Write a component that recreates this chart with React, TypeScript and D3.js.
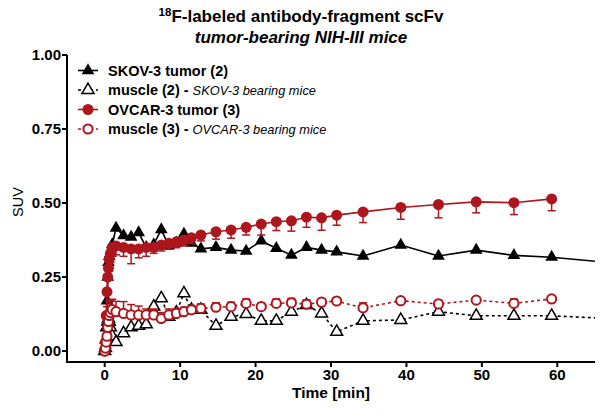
import React from 'react';
import * as d3 from 'd3';

const times = [0, 0.1, 0.2, 0.3, 0.4, 0.5, 0.6, 0.75, 1, 1.5, 2.5, 3.5, 4.5, 5.5, 6.5, 7.5, 8.5, 9.5, 10.5, 11.5, 12.75, 14.75, 16.75, 18.75, 20.75, 22.75, 24.75, 26.75, 28.75, 30.75, 34.25, 39.25, 44.25, 49.25, 54.25, 59.25];
const skovTimes = [...times, 69.25];

const skovTumor = [0.0, 0.02, 0.08, 0.17, 0.25, 0.3, 0.32, 0.33, 0.36, 0.415, 0.39, 0.385, 0.4, 0.35, 0.36, 0.41, 0.355, 0.365, 0.395, 0.365, 0.345, 0.35, 0.341, 0.338, 0.372, 0.347, 0.324, 0.35, 0.341, 0.335, 0.321, 0.358, 0.321, 0.341, 0.323, 0.317, 0.293];
const skovMuscle = [0.0, 0.01, 0.04, 0.08, 0.1, 0.11, 0.1, 0.08, 0.05, 0.03, 0.06, 0.08, 0.085, 0.09, 0.15, 0.178, 0.116, 0.13, 0.195, 0.139, 0.139, 0.085, 0.116, 0.125, 0.102, 0.102, 0.133, 0.155, 0.127, 0.065, 0.102, 0.105, 0.133, 0.119, 0.119, 0.119, 0.107];
const ovcarTumor = [0.0, 0.03, 0.12, 0.2, 0.25, 0.28, 0.31, 0.33, 0.35, 0.355, 0.35, 0.345, 0.345, 0.35, 0.35, 0.358, 0.364, 0.369, 0.375, 0.383, 0.392, 0.403, 0.409, 0.418, 0.429, 0.437, 0.44, 0.452, 0.45, 0.459, 0.47, 0.485, 0.495, 0.504, 0.501, 0.514];
const ovcarTumorErr = [0, 0.02, 0.04, 0.05, 0.05, 0.04, 0.04, 0.03, 0.03, 0.03, 0.03, 0.05, 0.03, 0.03, 0.02, 0.02, 0.02, 0.02, 0.02, 0.02, 0.02, 0.025, 0.028, 0.026, 0.037, 0.03, 0.035, 0.034, 0.042, 0.034, 0.036, 0.04, 0.045, 0.037, 0.04, 0.04];
const ovcarMuscle = [0.0, 0.01, 0.03, 0.05, 0.08, 0.1, 0.12, 0.13, 0.14, 0.133, 0.127, 0.122, 0.122, 0.122, 0.122, 0.11, 0.122, 0.127, 0.133, 0.139, 0.144, 0.148, 0.15, 0.161, 0.15, 0.161, 0.163, 0.158, 0.165, 0.169, 0.146, 0.17, 0.159, 0.172, 0.161, 0.176];
const ovcarMuscleErr = [0, 0.01, 0.02, 0.03, 0.04, 0.05, 0.05, 0.04, 0.035, 0.035, 0.04, 0.035, 0.03, 0.02, 0.02, 0.02, 0.02, 0.015, 0.015, 0.015, 0.015, 0.015, 0.015, 0.015, 0.012, 0.015, 0.015, 0.015, 0.012, 0.01, 0.017, 0.01, 0.012, 0.01, 0.015, 0.01];

const xTicks = [0, 10, 20, 30, 40, 50, 60];
const yTicks = [0, 0.25, 0.5, 0.75, 1.0];

const legendItems = [
  { main: 'SKOV-3 tumor (2)', sub: '' },
  { main: 'muscle (2) - ', sub: 'SKOV-3 bearing mice' },
  { main: 'OVCAR-3 tumor (3)', sub: '' },
  { main: 'muscle (3) - ', sub: 'OVCAR-3 bearing mice' },
];

const RED = '#ad161c';
const FONT = '"Liberation Sans", Arial, sans-serif';

export default function App() {
  const x = d3.scaleLinear().domain([-5, 65]).range([67, 595]);
  const y = d3.scaleLinear().domain([-0.037, 1.0]).range([362, 55]);
  const line = d3.line<[number, number]>().x(d => x(d[0])).y(d => y(d[1]));
  const tri = d3.symbol(d3.symbolTriangle, 70)() as string;
  const triOpen = d3.symbol(d3.symbolTriangle, 62)() as string;

  const zip = (t: number[], v: number[]) => t.map((ti, i) => [ti, v[i]] as [number, number]);
  const inDom = (t: number) => t <= 65;

  const legY = [70.5, 90, 109.5, 129];

  return (
    <svg width={600} height={419} style={{ position: 'absolute', left: 0, top: 0, background: '#fff' }} fontFamily={FONT}>
      <defs>
        <clipPath id="plot"><rect x={67} y={40} width={528} height={322} /></clipPath>
      </defs>
      {/* title */}
      <text x={301} y={22} textAnchor="middle" fontSize={17} fontWeight="bold">
        <tspan fontSize={11.5} dy={-6}>18</tspan><tspan dy={6}>F-labeled antibody-fragment scFv</tspan>
      </text>
      <text x={301} y={43} textAnchor="middle" fontSize={17} fontWeight="bold" fontStyle="italic">tumor-bearing NIH-III mice</text>

      {/* axes */}
      <path d={`M${x(-5)},55 V362 H595`} fill="none" stroke="#000" strokeWidth={2} />
      {yTicks.map(t => (
        <g key={'y' + t}>
          <line x1={62} x2={67} y1={y(t)} y2={y(t)} stroke="#000" strokeWidth={2} />
          <text x={61} y={y(t) + 5} textAnchor="end" fontSize={15} fontWeight="bold">{t.toFixed(2)}</text>
        </g>
      ))}
      {xTicks.map(t => (
        <g key={'x' + t}>
          <line x1={x(t)} x2={x(t)} y1={362} y2={367} stroke="#000" strokeWidth={2} />
          <text x={x(t)} y={380} textAnchor="middle" fontSize={15} fontWeight="bold">{t}</text>
        </g>
      ))}
      <text x={331} y={398} textAnchor="middle" fontSize={15.5} fontWeight="bold">Time [min]</text>
      <text transform={`translate(23,202) rotate(-90)`} textAnchor="middle" fontSize={14.5}>SUV</text>

      <g clipPath="url(#plot)">
        {/* SKOV tumor */}
        <path d={line(zip(skovTimes, skovTumor)) as string} fill="none" stroke="#000" strokeWidth={1.6} />
        {skovTimes.map((t, i) => inDom(t) && (
          <path key={'st' + i} d={tri} transform={`translate(${x(t)},${y(skovTumor[i])})`} fill="#000" />
        ))}
        {/* SKOV muscle */}
        <path d={line(zip(skovTimes, skovMuscle)) as string} fill="none" stroke="#000" strokeWidth={1.6} strokeDasharray="3,3" />
        {skovTimes.map((t, i) => inDom(t) && (
          <path key={'sm' + i} d={triOpen} transform={`translate(${x(t)},${y(skovMuscle[i])})`} fill="#fff" stroke="#000" strokeWidth={1.5} />
        ))}
        {/* OVCAR tumor */}
        <path d={line(zip(times, ovcarTumor)) as string} fill="none" stroke={RED} strokeWidth={1.6} />
        {times.map((t, i) => (
          <g key={'ot' + i}>
            <line x1={x(t)} x2={x(t)} y1={y(ovcarTumor[i])} y2={y(ovcarTumor[i] - ovcarTumorErr[i])} stroke={RED} strokeWidth={1.5} />
            <line x1={x(t) - 4} x2={x(t) + 4} y1={y(ovcarTumor[i] - ovcarTumorErr[i])} y2={y(ovcarTumor[i] - ovcarTumorErr[i])} stroke={RED} strokeWidth={1.5} />
            <circle cx={x(t)} cy={y(ovcarTumor[i])} r={5.5} fill={RED} />
          </g>
        ))}
        {/* OVCAR muscle */}
        <path d={line(zip(times, ovcarMuscle)) as string} fill="none" stroke={RED} strokeWidth={1.6} strokeDasharray="3,3" />
        {times.map((t, i) => (
          <g key={'om' + i}>
            <line x1={x(t)} x2={x(t)} y1={y(ovcarMuscle[i])} y2={y(ovcarMuscle[i] + ovcarMuscleErr[i])} stroke={RED} strokeWidth={1.5} />
            <line x1={x(t) - 4} x2={x(t) + 4} y1={y(ovcarMuscle[i] + ovcarMuscleErr[i])} y2={y(ovcarMuscle[i] + ovcarMuscleErr[i])} stroke={RED} strokeWidth={1.5} />
            <circle cx={x(t)} cy={y(ovcarMuscle[i])} r={4.6} fill="#fff" stroke={RED} strokeWidth={2} />
          </g>
        ))}
      </g>

      {/* legend */}
      {legendItems.map((it, i) => {
        const cy = legY[i];
        const isRed = i >= 2;
        const col = isRed ? RED : '#000';
        const dashed = i % 2 === 1;
        return (
          <g key={'l' + i}>
            <line x1={78} x2={98} y1={cy} y2={cy} stroke={col} strokeWidth={1.6} strokeDasharray={dashed ? '3,3' : undefined} />
            {i === 0 && <path d={tri} transform={`translate(88,${cy})`} fill="#000" />}
            {i === 1 && <path d={triOpen} transform={`translate(88,${cy})`} fill="#fff" stroke="#000" strokeWidth={1.5} />}
            {i === 2 && <circle cx={88} cy={cy} r={5.5} fill={RED} />}
            {i === 3 && <circle cx={88} cy={cy} r={4.6} fill="#fff" stroke={RED} strokeWidth={2} />}
            <text x={108} y={cy + 5} fontSize={14.5} fontWeight="bold">
              {it.main}
              {it.sub && <tspan fontSize={12.8} fontWeight="normal" fontStyle="italic">{it.sub}</tspan>}
            </text>
          </g>
        );
      })}
    </svg>
  );
}
